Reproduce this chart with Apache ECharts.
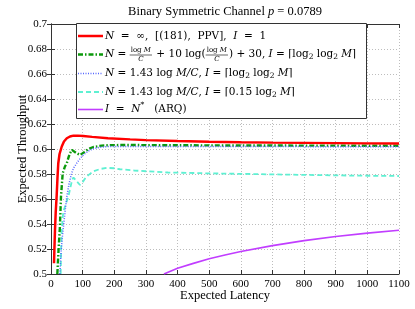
<!DOCTYPE html>
<html><head><meta charset="utf-8">
<script src="https://cdn.jsdelivr.net/npm/echarts@6/dist/echarts.min.js"></script>
<style>html,body{margin:0;padding:0;background:#fff}#c{width:415px;height:309px}</style>
</head><body><div id="c"></div>
<script>
// ---- data ----
const xName = 'Expected Latency';
const yName = 'Expected Throughput';
const xMin = 0, xMax = 1100, xStep = 100;
const yMin = 0.5, yMax = 0.7, yStep = 0.02;

const redData = [[9.5,0.5086],[11,0.522],[12.6,0.535],[15,0.55],[18,0.563],[20.5,0.577],[23,0.5886],[27,0.596],[34,0.602],[41,0.606],[50,0.6086],[60,0.6100],[71,0.6107],[85,0.6107],[102,0.6104],[130,0.6097],[180,0.6086],[250,0.6077],[300,0.6071],[400,0.6064],[500,0.6058],[600,0.6054],[700,0.6051],[800,0.6049],[900,0.6047],[1000,0.6045],[1100,0.6044]];
const greenData = [[20,0.5],[24,0.52],[28,0.537],[31.6,0.562],[37,0.5806],[44,0.586],[50,0.5886],[55,0.593],[60,0.5966],[66,0.5993],[72,0.5992],[80,0.5968],[92,0.5952],[105,0.5975],[118,0.6],[134,0.6016],[160,0.6027],[186,0.6031],[250,0.6032],[300,0.6031],[400,0.603],[500,0.6029],[600,0.6028],[700,0.6028],[800,0.6027],[900,0.6027],[1000,0.6026],[1100,0.6026]];
const blueData = [[28,0.5],[32,0.518],[36,0.53],[39,0.537],[45,0.551],[50,0.562],[57,0.572],[65,0.5806],[72,0.585],[81,0.5886],[91,0.592],[102,0.5952],[118,0.5984],[134,0.6003],[155,0.6013],[176,0.6019],[220,0.6021],[300,0.6021],[400,0.6021],[500,0.602],[600,0.602],[700,0.602],[800,0.6019],[900,0.6019],[1000,0.6019],[1100,0.6018]];
const cyanData = [[30.6,0.5],[32,0.52],[34,0.535],[37,0.545],[39,0.55],[47,0.556],[55,0.562],[62,0.57],[67,0.5755],[71,0.5772],[80,0.5745],[91.6,0.5712],[100,0.5735],[110,0.5772],[120,0.5795],[135,0.5822],[155,0.5840],[176,0.5849],[200,0.5846],[218,0.5838],[263,0.5828],[300,0.5822],[370,0.5812],[450,0.5808],[500,0.5805],[600,0.5801],[700,0.5797],[800,0.5793],[900,0.5789],[1000,0.5786],[1100,0.5784]];
const purpleData = [[357,0.5],[400,0.5046],[450,0.5085],[500,0.5122],[550,0.5152],[600,0.518],[700,0.5227],[800,0.5267],[900,0.53],[1000,0.5327],[1100,0.535]];

const seriesNames = ['red','green','blue','cyan','purple'];
const colors = ['#ff0000','#0b990b','#5566ff','#5ef0d2','#c13dff'];

// ---- rendering ----
const FF = '"Liberation Serif", "DejaVu Serif", serif';
const LF = '"DejaVu Serif", serif';
const chart = echarts.init(document.getElementById('c'), null, {renderer:'canvas'});
const ctx = document.createElement('canvas').getContext('2d');
function tw(t, size, italic){ ctx.font = (italic?'italic ':'') + size + 'px ' + LF; return ctx.measureText(t).width; }

const FS = 10.5;
function layout(segs, x0, yc){
  const els = []; let x = x0;
  segs.forEach(s => {
    if (s.frac){
      const fs = 7;
      const nw = s.frac[0].reduce((a,p)=>a+tw(p[0],fs,p[1]==='i'),0);
      const dw = s.frac[1].reduce((a,p)=>a+tw(p[0],fs,p[1]==='i'),0);
      const W = Math.max(nw,dw)+2;
      let nx = x + (W-nw)/2;
      s.frac[0].forEach(p=>{ els.push(txt(p[0], nx, yc-4.4, fs, p[1]==='i')); nx += tw(p[0],fs,p[1]==='i'); });
      let dx = x + (W-dw)/2;
      s.frac[1].forEach(p=>{ els.push(txt(p[0], dx, yc+4.8, fs, p[1]==='i')); dx += tw(p[0],fs,p[1]==='i'); });
      els.push({type:'line', z:101, shape:{x1:x, y1:yc+0.5, x2:x+W, y2:yc+0.5}, style:{stroke:'#000', lineWidth:0.6}});
      x += W + 1;
    } else {
      const kind = s[1];
      let size = FS, dy = 0, it = kind==='i';
      if (kind==='sub'){ size = 7.5; dy = 3; }
      if (kind==='sup'){ size = 7.5; dy = -4; }
      els.push(txt(s[0], x, yc+dy, size, it));
      x += tw(s[0], size, it);
    }
  });
  return els;
}
function txt(t, x, y, size, italic){
  return {type:'text', z:101, x:x, y:y, style:{text:t, fontSize:size, fontFamily:LF, fontStyle: italic?'italic':'normal', fill:'#000', align:'left', verticalAlign:'middle'}};
}

const legendRows = [
  [['N','i'],['  =  ∞,  [(181),  PPV],  ','r'],['I','i'],['  =  1','r']],
  [['N','i'],[' = ','r'],{frac:[[['log ','r'],['M','i']],[['C','i']]]},[' + 10 log(','r'],{frac:[[['log ','r'],['M','i']],[['C','i']]]},[') + 30, ','r'],['I','i'],[' = ⌈log','r'],['2','sub'],[' log','r'],['2','sub'],[' ','r'],['M','i'],['⌉','r']],
  [['N','i'],[' = 1.43 log ','r'],['M/C','i'],[', ','r'],['I','i'],[' = ⌈log','r'],['2','sub'],[' log','r'],['2','sub'],[' ','r'],['M','i'],['⌉','r']],
  [['N','i'],[' = 1.43 log ','r'],['M/C','i'],[', ','r'],['I','i'],[' = ⌈0.15 log','r'],['2','sub'],[' ','r'],['M','i'],['⌉','r']],
  [['I','i'],['  =  ','r'],['N','i'],['*','sup'],['   (ARQ)','r']]
];
const rowY = [36, 54.5, 73.5, 92, 109.5];
const lineStyles = [
  {w:2.5, dash:null},
  {w:2.4, dash:[5,2,1.5,2]},
  {w:1.5, dash:[1,1.5]},
  {w:1.8, dash:[5,3]},
  {w:1.6, dash:null}
];

const graphics = [];
graphics.push({type:'rect', z:100, shape:{x:76.5, y:23.5, width:290, height:95}, style:{fill:'#fff', stroke:'#333', lineWidth:1}});
legendRows.forEach((r,i)=>{
  graphics.push({type:'line', z:101, shape:{x1:78, y1:rowY[i], x2:103, y2:rowY[i]}, style:{stroke:colors[i], lineWidth:lineStyles[i].w, lineDash:lineStyles[i].dash}});
  layout(r, 105, rowY[i]).forEach(e=>graphics.push(e));
});
// title
graphics.push({type:'text', z:101, x:225, y:12, style:{text:'Binary Symmetric Channel {i|p} = 0.0789', fontSize:12.5, fontFamily:FF, fill:'#000', align:'center', verticalAlign:'middle', rich:{i:{fontStyle:'italic', fontSize:12.5, fontFamily:FF}}}});

const datasets = [redData, greenData, blueData, cyanData, purpleData];
const series = datasets.map((d,i)=>({
  name: seriesNames[i], type:'line', data:d, xAxisIndex:0, yAxisIndex:0,
  showSymbol:false, symbol:'none', smooth:false, clip:true, animation:false,
  lineStyle:{color:colors[i], width:lineStyles[i].w, type: lineStyles[i].dash || 'solid'},
  z: i===2 ? 12 : 10 - i
}));

const axisLine = {show:true, lineStyle:{color:'#333', width:1}};
const axisTick = {show:true, inside:true, length:4, lineStyle:{color:'#333'}};
const option = {
  animation:false,
  grid:{left:51, right:16, top:24, bottom:35, containLabel:false, outerBoundsMode:'none'},
  xAxis:[
    {type:'value', min:xMin, max:xMax, interval:xStep, position:'bottom',
     axisLine:axisLine, axisTick:axisTick,
     axisLabel:{color:'#000', fontFamily:FF, fontSize:11, margin:5, formatter:v=>String(v)},
     splitLine:{show:true, lineStyle:{type:[1,2], color:'#bdbdbd', width:1}},
     name:xName, nameLocation:'middle', nameGap:15, nameMoveOverlap:false, nameTextStyle:{color:'#000', fontFamily:FF, fontSize:12.5}},
    {type:'value', min:xMin, max:xMax, interval:xStep, position:'top',
     axisLine:axisLine, axisTick:axisTick, axisLabel:{show:false}, splitLine:{show:false}}
  ],
  yAxis:[
    {type:'value', min:yMin, max:yMax, interval:yStep, position:'left',
     axisLine:axisLine, axisTick:axisTick,
     axisLabel:{color:'#000', fontFamily:FF, fontSize:11, margin:4, formatter:v=>String(+v.toFixed(2))},
     splitLine:{show:true, lineStyle:{type:[1,2], color:'#bdbdbd', width:1}},
     name:yName, nameLocation:'middle', nameGap:22, nameMoveOverlap:false, nameRotate:90, nameTextStyle:{color:'#000', fontFamily:FF, fontSize:12.5}},
    {type:'value', min:yMin, max:yMax, interval:yStep, position:'right',
     axisLine:axisLine, axisTick:axisTick, axisLabel:{show:false}, splitLine:{show:false}}
  ],
  series: series,
  graphic: graphics
};
chart.setOption(option);
</script></body></html>
